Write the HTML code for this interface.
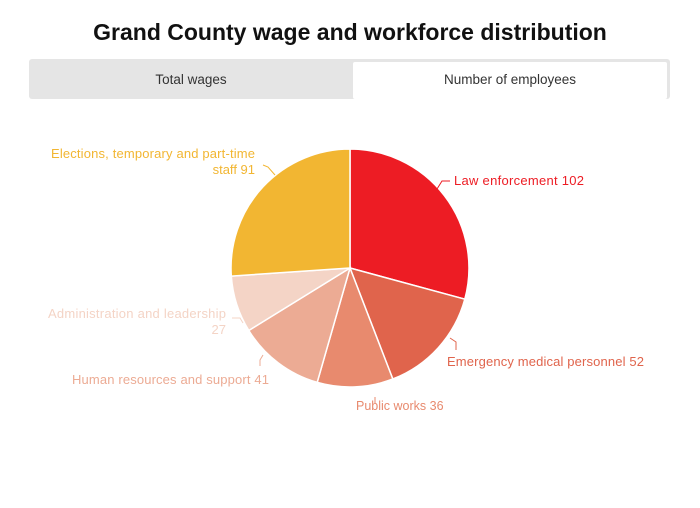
<!DOCTYPE html>
<html><head><style>
body{margin:0;background:#fff;width:700px;height:503px;overflow:hidden;font-family:"Liberation Sans",sans-serif}
</style></head><body>
<svg width="700" height="503" xmlns="http://www.w3.org/2000/svg" font-family="Liberation Sans, sans-serif">
<text x="350" y="40" text-anchor="middle" font-size="23" font-weight="bold" fill="#111">Grand County wage and workforce distribution</text>
<rect x="29" y="59" width="641" height="40" rx="3" fill="#e5e5e5"/>
<rect x="353" y="62" width="314" height="37" rx="2" fill="#fff"/>
<text x="191" y="84" text-anchor="middle" font-size="13.5" fill="#333">Total wages</text>
<text x="510" y="84" text-anchor="middle" font-size="13.5" fill="#333">Number of employees</text>
<g stroke="#fff" stroke-width="1.5">
<path d="M350,268 L350,149 A119,119 0 0 1 464.8,299.2 Z" fill="#ed1c24"/>
<path d="M350,268 L464.8,299.2 A119,119 0 0 1 392.8,379 Z" fill="#e0644c"/>
<path d="M350,268 L392.8,379 A119,119 0 0 1 317.2,382.4 Z" fill="#e88a6e"/>
<path d="M350,268 L317.2,382.4 A119,119 0 0 1 248.8,330.5 Z" fill="#ecab94"/>
<path d="M350,268 L248.8,330.5 A119,119 0 0 1 231.3,276.1 Z" fill="#f4d4c6"/>
<path d="M350,268 L231.3,276.1 A119,119 0 0 1 350,149 Z" fill="#f2b632"/>
</g>
<g fill="none" stroke-width="1">
<path d="M437,189 L442,181 L450,181" stroke="#ed1c24"/>
<path d="M450,338 L456,342 L456,350" stroke="#e0644c"/>
<path d="M375,397 L375,403" stroke="#e88a6e"/>
<path d="M263,355 L260,360 L260,366" stroke="#ecab94"/>
<path d="M232,318 L240,318 L243,323" stroke="#f4d4c6"/>
<path d="M263,165 L268,167 L275,175" stroke="#f2b632"/>
</g>
<g font-size="13">
<text x="454" y="185" fill="#ed1c24" textLength="130">Law enforcement 102</text>
<text x="447" y="366" fill="#e0644c" textLength="197">Emergency medical personnel 52</text>
<text x="356" y="410" fill="#e88a6e" font-size="12.5">Public works 36</text>
<text x="72" y="384" fill="#ecab94" textLength="197">Human resources and support 41</text>
<text x="48" y="318" fill="#f4d4c6" textLength="178">Administration and leadership</text>
<text x="226" y="334" text-anchor="end" fill="#f4d4c6">27</text>
<text x="51" y="158" fill="#f2b632" textLength="204">Elections, temporary and part-time</text>
<text x="255" y="174" text-anchor="end" fill="#f2b632">staff 91</text>
</g>
</svg>
</body></html>
